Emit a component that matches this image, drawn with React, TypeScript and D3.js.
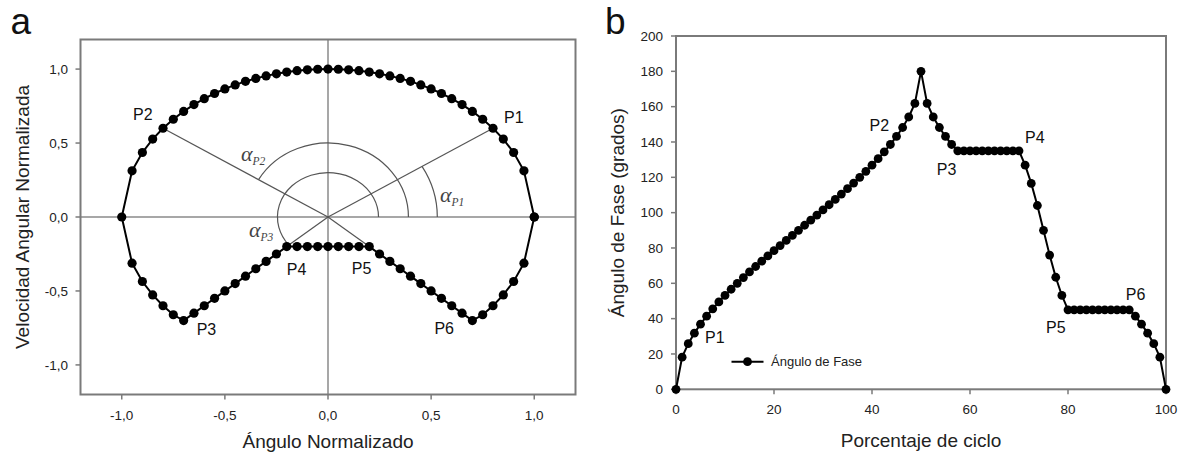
import React from 'react';
import * as d3 from 'd3';

// ---- Panel a: phase portrait (normalized angle vs normalized angular velocity)
const loopX = [
  1.00, 0.95, 0.90, 0.85, 0.80, 0.75, 0.70, 0.65, 0.60, 0.55, 0.50, 0.45, 0.40, 0.35, 0.30, 0.25, 0.20, 0.15, 0.10, 0.05,
  0.00, -0.05, -0.10, -0.15, -0.20, -0.25, -0.30, -0.35, -0.40, -0.45, -0.50, -0.55, -0.60, -0.65, -0.70, -0.75, -0.80,
  -0.85, -0.90, -0.95, -1.00,
  -0.95, -0.90, -0.85, -0.80, -0.75,
  -0.70, -0.65, -0.60, -0.55, -0.50, -0.45, -0.40, -0.35, -0.30, -0.25, -0.20,
  -0.15, -0.10, -0.05, 0.00, 0.05, 0.10, 0.15, 0.20,
  0.25, 0.30, 0.35, 0.40, 0.45, 0.50, 0.55, 0.60, 0.65, 0.70,
  0.75, 0.80, 0.85, 0.90, 0.95, 1.00,
];
const loopY = [
  0.000, 0.312, 0.436, 0.527, 0.600, 0.661, 0.714, 0.760, 0.800, 0.835, 0.866, 0.893, 0.917, 0.937, 0.954, 0.968, 0.980,
  0.989, 0.995, 0.999, 1.000, 0.999, 0.995, 0.989, 0.980, 0.968, 0.954, 0.937, 0.917, 0.893, 0.866, 0.835, 0.800, 0.760,
  0.714, 0.661, 0.600, 0.527, 0.436, 0.312, 0.000,
  -0.312, -0.436, -0.527, -0.600, -0.661,
  -0.70, -0.65, -0.60, -0.55, -0.50, -0.45, -0.40, -0.35, -0.30, -0.25, -0.20,
  -0.20, -0.20, -0.20, -0.20, -0.20, -0.20, -0.20, -0.20,
  -0.25, -0.30, -0.35, -0.40, -0.45, -0.50, -0.55, -0.60, -0.65, -0.70,
  -0.661, -0.600, -0.527, -0.436, -0.312, 0.000,
];

// ---- Panel b: phase angle over the cycle
const cyclePct = [
  0, 1.25, 2.5, 3.75, 5, 6.25, 7.5, 8.75, 10, 11.25, 12.5, 13.75, 15, 16.25, 17.5, 18.75, 20, 21.25, 22.5, 23.75,
  25, 26.25, 27.5, 28.75, 30, 31.25, 32.5, 33.75, 35, 36.25, 37.5, 38.75, 40, 41.25, 42.5, 43.75, 45, 46.25, 47.5,
  48.75, 50, 51.25, 52.5, 53.75, 55, 56.25, 57.5, 58.75, 60, 61.25, 62.5, 63.75, 65, 66.25, 67.5, 68.75, 70, 71.25,
  72.5, 73.75, 75, 76.25, 77.5, 78.75, 80, 81.25, 82.5, 83.75, 85, 86.25, 87.5, 88.75, 90, 91.25, 92.5, 93.75, 95,
  96.25, 97.5, 98.75, 100,
];
const phaseAngle = [
  0, 18.19, 25.84, 31.79, 36.87, 41.41, 45.57, 49.46, 53.13, 56.63, 60.0, 63.26, 66.42, 69.51, 72.54, 75.52, 78.46,
  81.37, 84.26, 87.13, 90.0, 92.87, 95.74, 98.63, 101.54, 104.48, 107.46, 110.49, 113.58, 116.74, 120.0, 123.37,
  126.87, 130.54, 134.43, 138.59, 143.13, 148.21, 154.16, 161.81, 180,
  161.81, 154.16, 148.21, 143.13, 138.59,
  135, 135, 135, 135, 135, 135, 135, 135, 135, 135, 135,
  126.87, 116.57, 104.04, 90.0, 75.96, 63.43, 53.13, 45,
  45, 45, 45, 45, 45, 45, 45, 45, 45, 45,
  41.41, 36.87, 31.79, 25.84, 18.19, 0,
];

const pointNames = ['P1', 'P2', 'P3', 'P4', 'P5', 'P6'];
const pointIndex = [4, 36, 46, 56, 64, 74];

const xTicksA = [-1, -0.5, 0, 0.5, 1];
const yTicksA = [-1, -0.5, 0, 0.5, 1];
const xTicksB = [0, 20, 40, 60, 80, 100];
const yTicksB = [0, 20, 40, 60, 80, 100, 120, 140, 160, 180, 200];

const angleLabels = ['P1', 'P2', 'P3'];

const SANS = "'Liberation Sans', Arial, Helvetica, sans-serif";
const SERIF = "'Liberation Serif', 'DejaVu Serif', 'Times New Roman', serif";
const FRAME = '#7a7a7a';
const TXT = '#222';

const locale = d3.formatLocale({ decimal: ',', thousands: '.', grouping: [3], currency: ['', ''], minus: '-' });
const fmt1 = locale.format('.1f');

export default function App() {
  // scales
  const xA = d3.scaleLinear().domain([-1.2, 1.2]).range([80.5, 575.5]);
  const yA = d3.scaleLinear().domain([-1.2, 1.2]).range([394.5, 39.5]);
  const xB = d3.scaleLinear().domain([0, 100]).range([676, 1166]);
  const yB = d3.scaleLinear().domain([0, 200]).range([389.3, 36]);

  const loopPts = loopX.map((x, i) => [x, loopY[i]] as [number, number]);
  const lineA = d3.line<[number, number]>().x((d) => xA(d[0])).y((d) => yA(d[1]));
  const phasePts = cyclePct.map((c, i) => [c, phaseAngle[i]] as [number, number]);
  const lineB = d3.line<[number, number]>().x((d) => xB(d[0])).y((d) => yB(d[1]));

  const cx = xA(0);
  const cy = yA(0);

  // angle arcs (ellipses in data units), each ending on the ray to a point
  const arcs = [
    { rx: 0.53, ry: 0.67, target: 4, large: 0, label: 'P1' },
    { rx: 0.39, ry: 0.5, target: 36, large: 0, label: 'P2' },
    { rx: 0.245, ry: 0.3, target: 56, large: 1, label: 'P3' },
  ];
  const arcPath = (a: any) => {
    const px = loopX[a.target];
    const py = loopY[a.target];
    const s = 1 / Math.sqrt((px / a.rx) ** 2 + (py / a.ry) ** 2);
    const ex = xA(px * s);
    const ey = yA(py * s);
    const rxp = xA(a.rx) - cx;
    const ryp = cy - yA(a.ry);
    return `M${xA(a.rx)},${cy} A${rxp},${ryp} 0 ${a.large} 0 ${ex},${ey}`;
  };

  const labelOffA: Record<string, [number, number]> = {
    P1: [11, -5], P2: [-30, -8], P3: [13, 14.5], P4: [0, 28.5], P5: [-17.5, 27], P6: [-38, 13],
  };
  const labelOffB: Record<string, [number, number]> = {
    P1: [4.5, 19], P2: [-27, -5.5], P3: [-21, 24], P4: [6, -7.5], P5: [-22, 23.5], P6: [-3.5, -10],
  };

  const alphaPos: Record<string, [number, number]> = {
    P1: [440, 202], P2: [241, 161], P3: [249, 237],
  };

  return (
    <svg width={1188} height={465} style={{ position: 'absolute', left: 0, top: 0, background: '#fff' }}
      fontFamily={SANS}>
      <rect x={0} y={0} width={1188} height={465} fill="#fff" />

      {/* ================= Panel a ================= */}
      <text x={10.5} y={34} fontSize={37} fill="#111">a</text>

      {/* zero lines */}
      <line x1={xA(-1.2)} x2={xA(1.2)} y1={cy} y2={cy} stroke="#8a8a8a" strokeWidth={1.5} />
      <line x1={cx} x2={cx} y1={yA(1.2)} y2={yA(-1.2)} stroke="#8a8a8a" strokeWidth={1.5} />

      {/* rays to points */}
      {[4, 36, 56, 64].map((i) => (
        <line key={'ray' + i} x1={cx} y1={cy} x2={xA(loopX[i])} y2={yA(loopY[i])} stroke="#555" strokeWidth={1.2} />
      ))}
      {/* arcs */}
      {arcs.map((a) => (
        <path key={'arc' + a.label} d={arcPath(a)} fill="none" stroke="#555" strokeWidth={1.2} />
      ))}
      {angleLabels.map((l) => (
        <text key={'al' + l} x={alphaPos[l][0]} y={alphaPos[l][1]} fontFamily={SERIF} fontStyle="italic" fill="#444">
          <tspan fontSize={22}>α</tspan>
          <tspan fontSize={11.5} dy={4}>{l}</tspan>
        </text>
      ))}

      {/* frame */}
      <rect x={xA(-1.2)} y={yA(1.2)} width={xA(1.2) - xA(-1.2)} height={yA(-1.2) - yA(1.2)} fill="none"
        stroke={FRAME} strokeWidth={2} />
      {xTicksA.map((t) => (
        <g key={'xa' + t}>
          <line x1={xA(t)} x2={xA(t)} y1={yA(-1.2)} y2={yA(-1.2) + 5} stroke={FRAME} strokeWidth={1.5} />
          <text x={xA(t)} y={420} fontSize={13.5} textAnchor="middle" fill={TXT}>{fmt1(t)}</text>
        </g>
      ))}
      {yTicksA.map((t) => (
        <g key={'ya' + t}>
          <line x1={xA(-1.2) - 5} x2={xA(-1.2)} y1={yA(t)} y2={yA(t)} stroke={FRAME} strokeWidth={1.5} />
          <text x={68} y={yA(t) + 4.8} fontSize={13.5} textAnchor="end" fill={TXT}>{fmt1(t)}</text>
        </g>
      ))}

      {/* data */}
      <path d={lineA(loopPts) || ''} fill="none" stroke="#000" strokeWidth={2} />
      {loopPts.map((d, i) => (
        <circle key={'pa' + i} cx={xA(d[0])} cy={yA(d[1])} r={4.6} fill="#000" />
      ))}
      {pointNames.map((n, k) => {
        const i = pointIndex[k];
        return (
          <text key={'la' + n} x={xA(loopX[i]) + labelOffA[n][0]} y={yA(loopY[i]) + labelOffA[n][1]} fontSize={16}
            fill="#111">{n}</text>
        );
      })}

      <text x={xA(0)} y={448} fontSize={19} textAnchor="middle" fill={TXT}>Ángulo Normalizado</text>
      <text transform={`translate(29,${(yA(1.2) + yA(-1.2)) / 2}) rotate(-90)`} fontSize={19} textAnchor="middle"
        fill={TXT}>Velocidad Angular Normalizada</text>

      {/* ================= Panel b ================= */}
      <text x={605} y={34} fontSize={37} fill="#111">b</text>

      <rect x={xB(0)} y={yB(200)} width={xB(100) - xB(0)} height={yB(0) - yB(200)} fill="none" stroke={FRAME}
        strokeWidth={2} />
      {xTicksB.map((t) => (
        <g key={'xb' + t}>
          <line x1={xB(t)} x2={xB(t)} y1={yB(0)} y2={yB(0) + 5} stroke={FRAME} strokeWidth={1.5} />
          <text x={xB(t)} y={414} fontSize={13.5} textAnchor="middle" fill={TXT}>{t}</text>
        </g>
      ))}
      {yTicksB.map((t) => (
        <g key={'yb' + t}>
          <line x1={xB(0) - 5} x2={xB(0)} y1={yB(t)} y2={yB(t)} stroke={FRAME} strokeWidth={1.5} />
          <text x={663} y={yB(t) + 4.8} fontSize={13.5} textAnchor="end" fill={TXT}>{t}</text>
        </g>
      ))}

      <path d={lineB(phasePts) || ''} fill="none" stroke="#000" strokeWidth={2} />
      {phasePts.map((d, i) => (
        <circle key={'pb' + i} cx={xB(d[0])} cy={yB(d[1])} r={4.4} fill="#000" />
      ))}
      {pointNames.map((n, k) => {
        const i = pointIndex[k];
        return (
          <text key={'lb' + n} x={xB(cyclePct[i]) + labelOffB[n][0]} y={yB(phaseAngle[i]) + labelOffB[n][1]}
            fontSize={16} fill="#111">{n}</text>
        );
      })}

      {/* legend */}
      <line x1={731.5} x2={763.5} y1={361.7} y2={361.7} stroke="#000" strokeWidth={2} />
      <circle cx={747.5} cy={361.7} r={4.4} fill="#000" />
      <text x={771} y={366.3} fontSize={13} fill={TXT}>Ángulo de Fase</text>

      <text x={(xB(0) + xB(100)) / 2} y={447} fontSize={19} textAnchor="middle" fill={TXT}>Porcentaje de ciclo</text>
      <text transform={`translate(624,${(yB(0) + yB(200)) / 2}) rotate(-90)`} fontSize={19} textAnchor="middle"
        fill={TXT}>Ángulo de Fase (grados)</text>
    </svg>
  );
}
